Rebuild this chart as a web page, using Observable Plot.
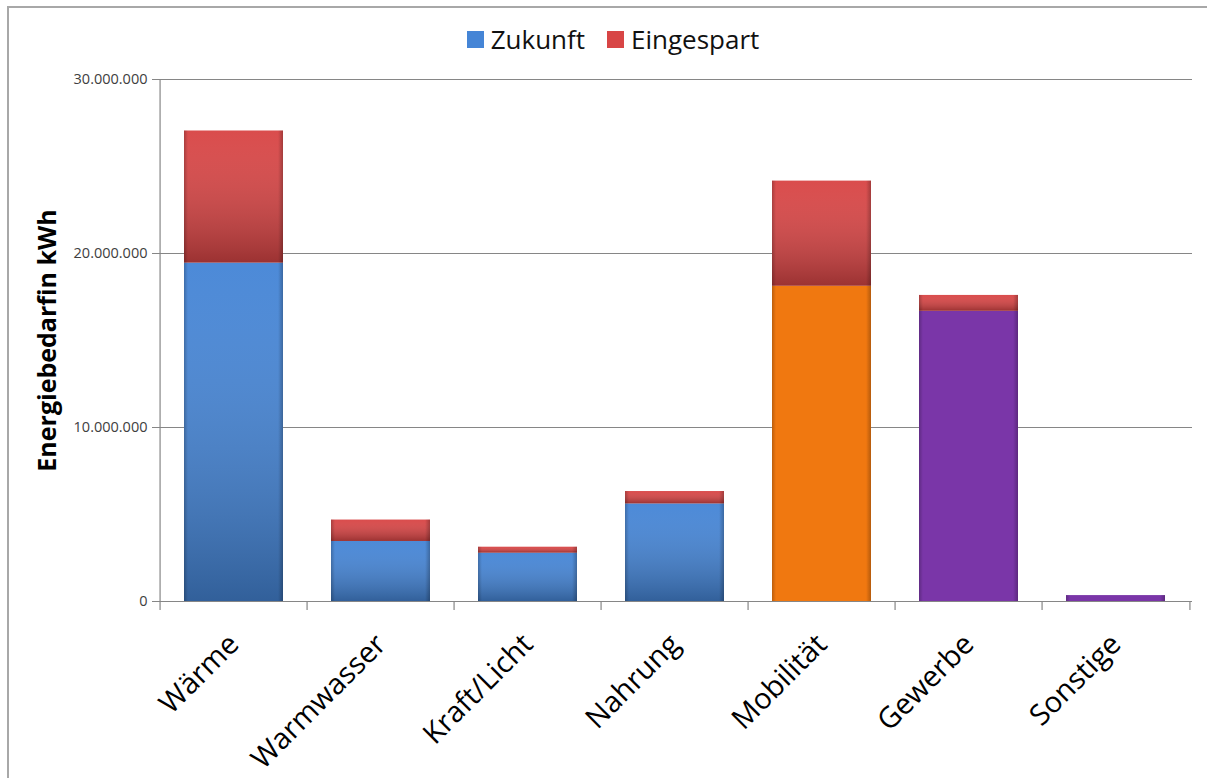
<!DOCTYPE html>
<html><head><meta charset="utf-8">
<script src="https://cdn.jsdelivr.net/npm/d3@7"></script>
<script src="https://cdn.jsdelivr.net/npm/@observablehq/plot@0.6"></script>
<style>
body{margin:0;background:#fff;font-family:"Open Sans",sans-serif;}
#wrap{position:relative;width:1207px;height:778px;overflow:hidden;background:#fff;}
#border{position:absolute;left:7px;top:6px;right:-10px;bottom:-10px;border-left:2px solid #a8a8a8;border-top:2px solid #a8a8a8;}
#chart{position:absolute;top:0;left:0;}
#legend{position:absolute;top:21px;left:10px;width:1228px;display:flex;justify-content:center;}
#legend svg{margin-right:7px !important;}
#legend span{margin-right:22px !important;}
</style></head><body>
<div id="wrap"><div id="border"></div><div id="chart"></div><div id="legend"></div></div>
<script>
const categories = ["Wärme","Warmwasser","Kraft/Licht","Nahrung","Mobilität","Gewerbe","Sonstige"];
const zukunft    = [19.45e6, 3.45e6, 2.78e6, 5.61e6, 18.12e6, 16.68e6, 0.34e6];
const eingespart = [7.59e6, 1.23e6, 0.34e6, 0.71e6, 6.04e6, 0.91e6, 0];
const zukunftGroup = ["Zukunft","Zukunft","Zukunft","Zukunft","Mobilität","Gewerbe","Gewerbe"];
const seriesNames = ["Zukunft","Eingespart"];
const yTicks = [0, 10e6, 20e6, 30e6];
const yLabel = "Energiebedarfin kWh";

const colorDomain = ["Zukunft","Eingespart","Mobilität","Gewerbe"];
const colorRange  = ["#4585d6","#d84545","#f07810","#7a36a8"];

const W = 1207, H = 778, mL = 157, mR = 15, mT = 79, mB = 177;
const bw = (W - mL - mR) / categories.length;
const fmt = d3.formatLocale({decimal:",", thousands:".", grouping:[3], currency:["","€"]}).format(",d");

const rows = categories.flatMap((c, i) => [
  {cat: c, series: seriesNames[0], group: zukunftGroup[i], value: zukunft[i]},
  {cat: c, series: seriesNames[1], group: "Eingespart", value: eingespart[i]}
]);
const shaded = new Set(["Zukunft","Eingespart"]);
const axisGray = "#868686";

const plot = Plot.plot({
  width: W, height: H, marginLeft: mL, marginRight: mR, marginTop: mT, marginBottom: mB,
  style: {fontFamily: "'Open Sans', sans-serif", background: "transparent", overflow: "visible"},
  x: {domain: categories, padding: 0, axis: null},
  y: {domain: [0, 30e6], axis: null},
  color: {domain: colorDomain, range: colorRange},
  opacity: {domain: [0, 1], range: [0, 1]},
  marks: [
    Plot.gridY(yTicks, {stroke: axisGray, strokeOpacity: 1, strokeWidth: 1.2}),
    Plot.axisY(yTicks, {tickSize: 5, tickPadding: 5, tickFormat: fmt, fontSize: 14.5, fill: "#404040", stroke: axisGray, label: null}),
    Plot.ruleX([categories[0]], {x: d => d, dx: -bw / 2, insetBottom: -9, stroke: axisGray, strokeWidth: 1.2}),
    Plot.ruleX(categories.slice(1), {x: d => d, y1: () => 0, y2: () => 0, insetBottom: -9, dx: -bw / 2, stroke: axisGray, strokeWidth: 1.2}),
    Plot.ruleX([categories[categories.length - 1]], {x: d => d, y1: () => 0, y2: () => 0, insetBottom: -9, dx: bw / 2, stroke: axisGray, strokeWidth: 1.2}),
    Plot.ruleY([0], {stroke: axisGray, strokeWidth: 1.2}),
    Plot.barY(rows, {x: "cat", y: "value", z: "series", fill: "group", insetLeft: 24, insetRight: 24}),
    Plot.barY(rows, {x: "cat", y: "value", z: "series", fill: "url(#shade)", fillOpacity: d => shaded.has(d.group) ? 1 : 0, insetLeft: 24, insetRight: 24}),
    Plot.barY(rows, {x: "cat", y: "value", z: "series", fill: "url(#edge)", insetLeft: 24, insetRight: 24}),
    Plot.text(categories, {x: d => d, text: d => d, frameAnchor: "bottom", rotate: -45, textAnchor: "end", lineAnchor: "middle", dx: 0, dy: 38, fontSize: 29, fill: "#000"}),
    Plot.text([yLabel], {text: d => d, frameAnchor: "left", rotate: -90, dx: -110, fontSize: 25, fontWeight: "bold", fill: "#000", textAnchor: "middle", lineAnchor: "middle"})
  ]
});
d3.select(plot).insert("defs", ":first-child").html(
  '<linearGradient id="shade" x1="0" y1="0" x2="0" y2="1">' +
  '<stop offset="0" stop-color="#fff" stop-opacity="0.04"/>' +
  '<stop offset="1" stop-color="#000" stop-opacity="0.28"/>' +
  '</linearGradient>' +
  '<linearGradient id="edge" x1="0" y1="0" x2="1" y2="0">' +
  '<stop offset="0" stop-color="#000" stop-opacity="0.22"/>' +
  '<stop offset="0.04" stop-color="#000" stop-opacity="0"/>' +
  '<stop offset="0.95" stop-color="#000" stop-opacity="0"/>' +
  '<stop offset="1" stop-color="#000" stop-opacity="0.25"/>' +
  '</linearGradient>');
document.getElementById("chart").appendChild(plot);

const legend = Plot.legend({
  color: {domain: seriesNames, range: [colorRange[0], colorRange[1]]},
  swatchSize: 17,
  style: {fontSize: "26px", fontFamily: "'Open Sans', sans-serif", color: "#111", background: "transparent"}
});
document.getElementById("legend").appendChild(legend);
</script>
</body></html>
